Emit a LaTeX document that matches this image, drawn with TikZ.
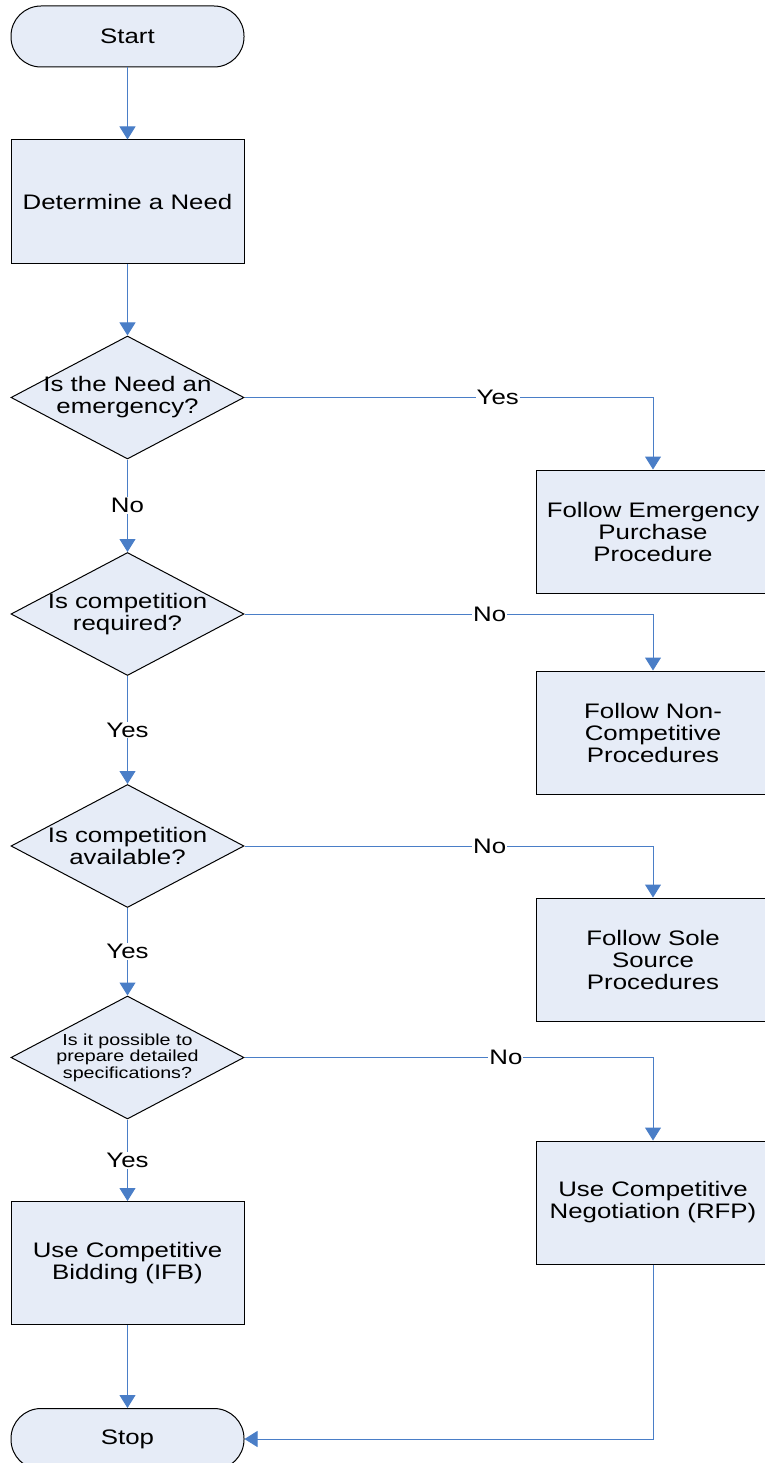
\documentclass[tikz,border=0pt]{standalone}
\usepackage{fontspec}
\setmainfont{Liberation Sans}[FakeStretch=1.23]
\usetikzlibrary{shapes.geometric,arrows.meta}
\definecolor{boxfill}{RGB}{230,236,247}
\definecolor{flow}{RGB}{74,126,199}

\begin{document}
\begin{tikzpicture}[x=1pt,y=-1pt,
  every node/.style={font=\fontsize{21}{22}\selectfont},
  term/.style={draw,fill=boxfill,line width=1pt,rounded corners=30pt,minimum width=233pt,minimum height=61pt},
  proc/.style={draw,fill=boxfill,line width=1pt,align=center,minimum width=233pt,minimum height=123pt,inner sep=0},
  decision/.style={diamond,draw,fill=boxfill,line width=1pt,minimum width=233pt,minimum height=123pt,inner sep=0},
  qtext/.style={align=center},
  small/.style={align=center,font=\fontsize{16}{16.5}\selectfont},
  lbl/.style={fill=white,inner sep=1pt},
  flowline/.style={draw=flow,line width=1pt,-{Triangle[length=13pt,width=16pt]}}]
  \useasboundingbox (0,0) rectangle (764,1463);

  \node (start) at (127.5,36.5) [term]{Start};
  \node (need) at (127.5,201.5) [proc]{Determine a Need};

  \node (q1) at (127.5,397.5) [decision,label={[qtext]center:Is the Need an\\emergency?}]{};
  \node (emerg) at (653,531.5) [proc]{Follow Emergency\\Purchase\\Procedure};

  \node (q2) at (127.5,614) [decision,label={[qtext]center:Is competition\\required?}]{};
  \node (noncomp) at (653,732.5) [proc]{Follow Non-\\Competitive\\Procedures};

  \node (q3) at (127.5,846) [decision,label={[qtext]center:Is competition\\available?}]{};
  \node (sole) at (653,959.5) [proc]{Follow Sole\\Source\\Procedures};

  \node (q4) at (127.5,1057.5) [decision,label={[small]center:Is it possible to\\prepare detailed\\specifications?}]{};
  \node (rfp) at (653,1202.5) [proc]{Use Competitive\\Negotiation (RFP)};

  \node (ifb) at (127.5,1263) [proc]{Use Competitive\\Bidding (IFB)};
  \node (stop) at (127.5,1439) [term]{Stop};

  \draw[flowline] (start) -- (need);
  \draw[flowline] (need) -- (q1);

  \draw[flowline] (q1) -- node[lbl]{No} (q2);
  \draw[flowline] (q1.east) -| node[lbl,pos=0.31]{Yes} (emerg.north);

  \draw[flowline] (q2) -- node[lbl]{Yes} (q3);
  \draw[flowline] (q2.east) -| node[lbl,pos=0.3]{No} (noncomp.north);

  \draw[flowline] (q3) -- node[lbl]{Yes} (q4);
  \draw[flowline] (q3.east) -| node[lbl,pos=0.3]{No} (sole.north);

  \draw[flowline] (q4) -- node[lbl]{Yes} (ifb);
  \draw[flowline] (q4.east) -| node[lbl,pos=0.32]{No} (rfp.north);

  \draw[flowline] (ifb) -- (stop);
  \draw[flowline] (rfp.south) |- (stop.east);

\end{tikzpicture}
\end{document}
